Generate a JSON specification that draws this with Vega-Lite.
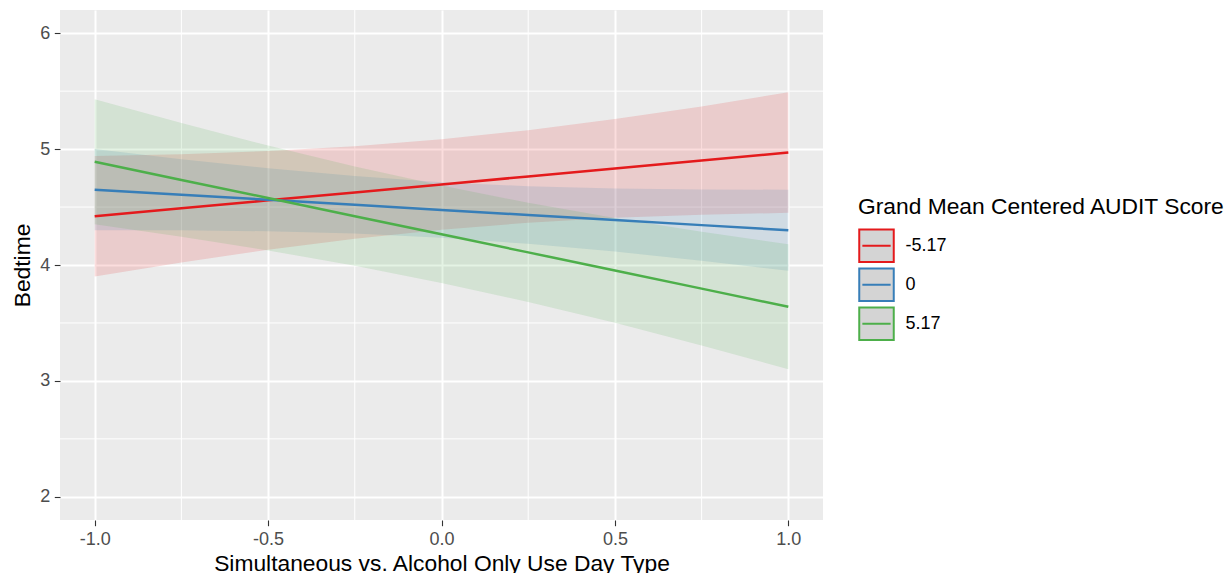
{
  "$schema": "https://vega.github.io/schema/vega-lite/v6.json",
  "width": 763,
  "height": 510,
  "autosize": {"type": "none"},
  "padding": {"left": 60, "top": 10, "right": 404, "bottom": 53},
  "background": "white",
  "config": {
    "font": "Liberation Sans",
    "view": {"fill": "#EBEBEB", "stroke": null},
    "axis": {
      "domain": false,
      "grid": true,
      "gridColor": "white",
      "gridWidth": 2,
      "tickColor": "#333333",
      "tickSize": 5.7,
      "tickWidth": 1.1,
      "labelColor": "#4D4D4D",
      "labelFontSize": 18,
      "labelPadding": 4.5,
      "titleColor": "black",
      "titleFontSize": 22.8,
      "titleFontWeight": "normal"
    }
  },
  "datasets": {
    "fits": [
      {"x": -1.0, "audit": "-5.17", "fit": 4.420, "lower": 3.900, "upper": 4.940},
      {"x": -0.75, "audit": "-5.17", "fit": 4.489, "lower": 4.022, "upper": 4.956},
      {"x": -0.5, "audit": "-5.17", "fit": 4.558, "lower": 4.132, "upper": 4.984},
      {"x": -0.25, "audit": "-5.17", "fit": 4.626, "lower": 4.227, "upper": 5.025},
      {"x": 0.0, "audit": "-5.17", "fit": 4.695, "lower": 4.305, "upper": 5.085},
      {"x": 0.25, "audit": "-5.17", "fit": 4.764, "lower": 4.365, "upper": 5.163},
      {"x": 0.5, "audit": "-5.17", "fit": 4.833, "lower": 4.407, "upper": 5.259},
      {"x": 0.75, "audit": "-5.17", "fit": 4.901, "lower": 4.434, "upper": 5.368},
      {"x": 1.0, "audit": "-5.17", "fit": 4.970, "lower": 4.450, "upper": 5.490},
      {"x": -1.0, "audit": "0", "fit": 4.650, "lower": 4.300, "upper": 5.000},
      {"x": -0.75, "audit": "0", "fit": 4.606, "lower": 4.299, "upper": 4.913},
      {"x": -0.5, "audit": "0", "fit": 4.563, "lower": 4.291, "upper": 4.835},
      {"x": -0.25, "audit": "0", "fit": 4.519, "lower": 4.271, "upper": 4.767},
      {"x": 0.0, "audit": "0", "fit": 4.475, "lower": 4.235, "upper": 4.715},
      {"x": 0.25, "audit": "0", "fit": 4.431, "lower": 4.183, "upper": 4.679},
      {"x": 0.5, "audit": "0", "fit": 4.388, "lower": 4.116, "upper": 4.660},
      {"x": 0.75, "audit": "0", "fit": 4.344, "lower": 4.037, "upper": 4.651},
      {"x": 1.0, "audit": "0", "fit": 4.300, "lower": 3.950, "upper": 4.650},
      {"x": -1.0, "audit": "5.17", "fit": 4.890, "lower": 4.351, "upper": 5.429},
      {"x": -0.75, "audit": "5.17", "fit": 4.734, "lower": 4.243, "upper": 5.225},
      {"x": -0.5, "audit": "5.17", "fit": 4.578, "lower": 4.126, "upper": 5.030},
      {"x": -0.25, "audit": "5.17", "fit": 4.421, "lower": 3.993, "upper": 4.849},
      {"x": 0.0, "audit": "5.17", "fit": 4.265, "lower": 3.845, "upper": 4.685},
      {"x": 0.25, "audit": "5.17", "fit": 4.109, "lower": 3.681, "upper": 4.537},
      {"x": 0.5, "audit": "5.17", "fit": 3.953, "lower": 3.501, "upper": 4.405},
      {"x": 0.75, "audit": "5.17", "fit": 3.796, "lower": 3.305, "upper": 4.287},
      {"x": 1.0, "audit": "5.17", "fit": 3.640, "lower": 3.101, "upper": 4.179}
    ],
    "minorX": [{"v": -0.75}, {"v": -0.25}, {"v": 0.25}, {"v": 0.75}],
    "minorY": [{"v": 2.5}, {"v": 3.5}, {"v": 4.5}, {"v": 5.5}]
  },
  "layer": [
    {
      "data": {"name": "minorX"},
      "mark": {"type": "rule", "color": "white", "strokeWidth": 1},
      "encoding": {
        "x": {"field": "v", "type": "quantitative", "scale": {"domain": [-1.1, 1.1], "nice": false, "zero": false}}
      }
    },
    {
      "data": {"name": "minorY"},
      "mark": {"type": "rule", "color": "white", "strokeWidth": 1},
      "encoding": {
        "y": {"field": "v", "type": "quantitative", "scale": {"domain": [1.8, 6.2], "nice": false, "zero": false}}
      }
    },
    {
      "data": {"name": "fits"},
      "mark": {"type": "area", "opacity": 0.15},
      "encoding": {
        "x": {"field": "x", "type": "quantitative",
              "scale": {"domain": [-1.1, 1.1], "nice": false, "zero": false},
              "axis": {"values": [-1, -0.5, 0, 0.5, 1], "labelExpr": "replace(format(datum.value, '.1f'), '\u2212', '-')", "title": "Simultaneous vs. Alcohol Only Use Day Type", "titlePadding": 4.5, "labelFontSize": 18, "titleFontSize": 22.8}},
        "y": {"field": "lower", "type": "quantitative",
              "scale": {"domain": [1.8, 6.2], "nice": false, "zero": false},
              "axis": {"values": [2, 3, 4, 5, 6], "format": "d", "title": "Bedtime", "titlePadding": 5, "labelFontSize": 18, "titleFontSize": 22.8}},
        "y2": {"field": "upper"},
        "detail": {"field": "audit", "type": "nominal"},
        "fill": {
          "condition": [
            {"test": "datum.audit === '-5.17'", "value": "#E41A1C"},
            {"test": "datum.audit === '0'", "value": "#377EB8"}
          ],
          "value": "#4DAF4A"
        }
      }
    },
    {
      "data": {"name": "fits"},
      "mark": {"type": "line", "strokeWidth": 2.5},
      "encoding": {
        "x": {"field": "x", "type": "quantitative"},
        "y": {"field": "fit", "type": "quantitative"},
        "color": {"field": "audit", "type": "nominal",
                  "scale": {"domain": ["-5.17", "0", "5.17"], "range": ["#E41A1C", "#377EB8", "#4DAF4A"]},
                  "legend": {
                    "title": "Grand Mean Centered AUDIT Score",
                    "orient": "none",
                    "legendX": 798,
                    "legendY": 186,
                    "titleFontSize": 22.8,
                    "titleFontWeight": "normal",
                    "titleColor": "black",
                    "titleLimit": 500,
                    "titlePadding": 8.5,
                    "labelFontSize": 18,
                    "labelColor": "black",
                    "labelOffset": 10.5,
                    "symbolType": "M-1,-0.94H1V0.94H-1Z M-0.82,0H0.82",
                    "symbolSize": 1190,
                    "symbolFillColor": "#D4D4D4",
                    "symbolStrokeWidth": 2,
                    "symbolOpacity": 1,
                    "rowPadding": -8
                  }}
      }
    }
  ]
}
